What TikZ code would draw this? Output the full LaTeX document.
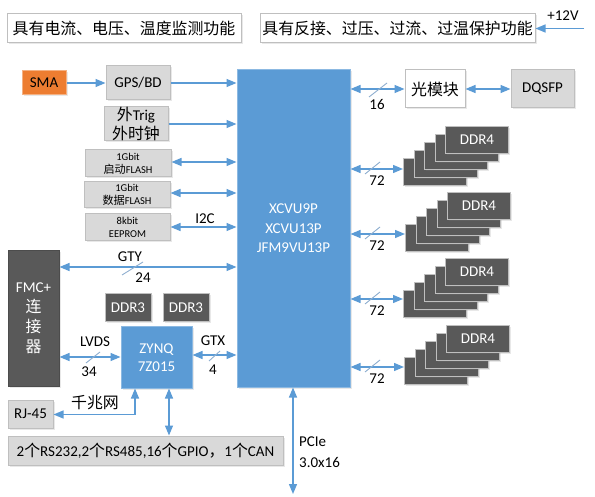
\documentclass[tikz,border=0pt]{standalone}
\usepackage{fontspec}
\setmainfont{Carlito}
\newfontfamily\cjk[Scale=1.06]{Noto Sans CJK SC}
\usetikzlibrary{arrows.meta,shadows}
\definecolor{myblue}{HTML}{5B9BD5}
\definecolor{mygray}{HTML}{D9D9D9}
\definecolor{mydark}{HTML}{595959}
\definecolor{myorange}{HTML}{ED7D31}
\definecolor{bordgray}{HTML}{BFBFBF}
\definecolor{slashc}{HTML}{8FAFD0}
\newcommand{\ddrstack}[3]{%
  \foreach \i in {0,...,4} {%
    \node[ddrbox, anchor=north west] (#1l\i) at ({#2+10.5*\i},{#3-8*\i}) {\ifnum\i=4 DDR4\fi};
  }%
}
\begin{document}
\begin{tikzpicture}[x=1pt,y=-1pt,
  font=\fontsize{15}{18}\selectfont,
  box/.style={draw=bordgray, line width=1pt, inner sep=0pt, align=center,
    drop shadow={opacity=0.18,shadow xshift=1.5pt,shadow yshift=-1.5pt}},
  whitebox/.style={box, fill=white},
  graybox/.style={box, fill=mygray},
  darkbox/.style={box, fill=mydark, text=white},
  bluebox/.style={box, fill=myblue, draw=myblue!70!white, text=white},
  ddrbox/.style={darkbox, minimum width=63pt, minimum height=27pt},
  conn/.style={draw=myblue, line width=1.3pt, -{Triangle[length=10pt,width=8pt]}},
  bi/.style={draw=myblue, line width=1.3pt, {Triangle[length=10pt,width=8pt]}-{Triangle[length=10pt,width=8pt]}},
  slash/.style={draw=slashc, line width=0.9pt},
  lbl/.style={inner sep=0pt, text=black},
  small/.style={font=\fontsize{10.5}{13}\selectfont}
]
\fill[white] (0,0) rectangle (595,497);
\useasboundingbox (0,0) rectangle (595,497);

% top boxes
\node[whitebox, minimum width=234pt, minimum height=29pt] (t1) at (124,28.5) {\cjk 具有电流、电压、温度监测功能};
\node[whitebox, minimum width=275pt, minimum height=29pt] (t2) at (397.5,28.5) {\cjk 具有反接、过压、过流、过温保护功能};
\node[lbl] (v12) at (563,16) {+12V};
\coordinate (v12s) at (584,28.5);
\draw[conn] (v12s) -- (t2.east);

% left column
\node[box, fill=myorange, draw=myorange!60!white, minimum width=44pt, minimum height=24pt] (sma) at (44,83) {SMA};
\node[graybox, minimum width=64pt, minimum height=34pt] (gps) at (138,83) {GPS/BD};
\node[graybox, minimum width=64pt, minimum height=34pt, font=\fontsize{15}{19}\selectfont] (trig) at (136,124) {{\cjk 外}Trig\\{\cjk 外时钟}};
\node[graybox, small, minimum width=86pt, minimum height=27pt] (fl1) at (128,163.5) {1Gbit\\{\cjk 启动}FLASH};
\node[graybox, small, minimum width=86pt, minimum height=26pt] (fl2) at (127,195) {1Gbit\\{\cjk 数据}FLASH};
\node[graybox, small, minimum width=85pt, minimum height=27pt] (eep) at (127.5,227.5) {8kbit\\EEPROM};

% FPGA
\node[bluebox, minimum width=113pt, minimum height=317pt, font=\fontsize{15}{19.5}\selectfont] (fpga) at (293.5,228.5) {XCVU9P\\XCVU13P\\JFM9VU13P};

% FMC
\node[darkbox, draw=black!70, minimum width=51pt, minimum height=135pt, font=\fontsize{15}{20}\selectfont] (fmc) at (33.5,318.5) {FMC+\\{\cjk 连}\\{\cjk 接}\\{\cjk 器}};

% ZYNQ area
\node[darkbox, minimum width=46pt, minimum height=28pt] (ddr3a) at (128,308) {DDR3};
\node[darkbox, minimum width=46pt, minimum height=28pt] (ddr3b) at (186,308) {DDR3};
\node[bluebox, minimum width=71pt, minimum height=61pt] (zynq) at (156.5,357.5) {ZYNQ\\7Z015};
\node[graybox, minimum width=45pt, minimum height=28pt] (rj) at (30.5,414) {RJ-45};
\node[graybox, minimum width=275pt, minimum height=29pt] (bar) at (145.5,450.5) {2{\cjk 个}RS232,2{\cjk 个}RS485,16{\cjk 个}GPIO{\cjk ，}1{\cjk 个}CAN};

% right side
\node[whitebox, minimum width=60pt, minimum height=38pt] (opt) at (435,89) {\cjk 光模块};
\node[graybox, minimum width=63pt, minimum height=38pt] (dq) at (542.5,89) {DQSFP};

\ddrstack{da}{403}{158}
\ddrstack{db}{405}{224}
\ddrstack{dc}{403}{290}
\ddrstack{dd}{404}{357}

% connectors left
\draw[conn] (sma.east) -- (gps.west);
\draw[conn] (gps.east) -- (gps.east -| fpga.west);
\draw[conn] (trig.east) -- (trig.east -| fpga.west);
\draw[bi] (fl1.east |- 0,162) -- (fpga.west |- 0,162);
\draw[bi] (fl2.east |- 0,193) -- (fpga.west |- 0,193);
\draw[bi] (eep.east |- 0,227) -- (fpga.west |- 0,227);
\node[lbl] (i2c) at (205,219) {I2C};

\draw[bi] (fmc.east |- 0,267) -- (fpga.west |- 0,267);
\draw[slash] (122,275) -- (143,262);
\node[lbl] (gty) at (130,257) {GTY};
\node[lbl] (n24) at (143,278) {24};

\draw[bi] (fmc.east |- 0,357) -- (zynq.west |- 0,357);
\draw[slash] (86,363) -- (100,352);
\node[lbl] (lvds) at (95,342) {LVDS};
\node[lbl] (n34) at (89,372) {34};

\draw[bi] (zynq.east |- 0,355) -- (fpga.west |- 0,355);
\draw[slash] (209,361) -- (220,351);
\node[lbl] (gtx) at (213,341) {GTX};
\node[lbl] (n4) at (213,370) {4};

\coordinate (rjc) at (135,414.5);
\draw[bi] (rj.east |- rjc) -- (rjc) -- (rjc |- zynq.south);
\node[lbl] (gbe) at (95,403) {\cjk 千兆网};

\draw[bi] (zynq.south -| 169,0) -- (bar.north -| 169,0);

\coordinate (pcieend) at (293,494);
\draw[bi] (fpga.south -| pcieend) -- (pcieend);
\node[lbl, anchor=west, align=left, font=\fontsize{15}{21}\selectfont] (pcie) at (299,452.5) {PCIe\\3.0x16};

% connectors right
\draw[bi] (fpga.east |- opt.west) -- (opt.west);
\draw[slash] (369,97) -- (387,83);
\node[lbl] (n16) at (377,104) {16};
\draw[bi] (opt.east) -- (dq.west);

\foreach \s/\yy in {da/169, db/234, dc/299, dd/367} {
  \draw[bi] (fpga.east |- 0,\yy) -- (\s l0.west |- 0,\yy);
  \draw[slash] (365,\yy+5) -- (380,\yy-7);
  \node[lbl] at (377,\yy+12) {72};
}
\end{tikzpicture}
\end{document}
